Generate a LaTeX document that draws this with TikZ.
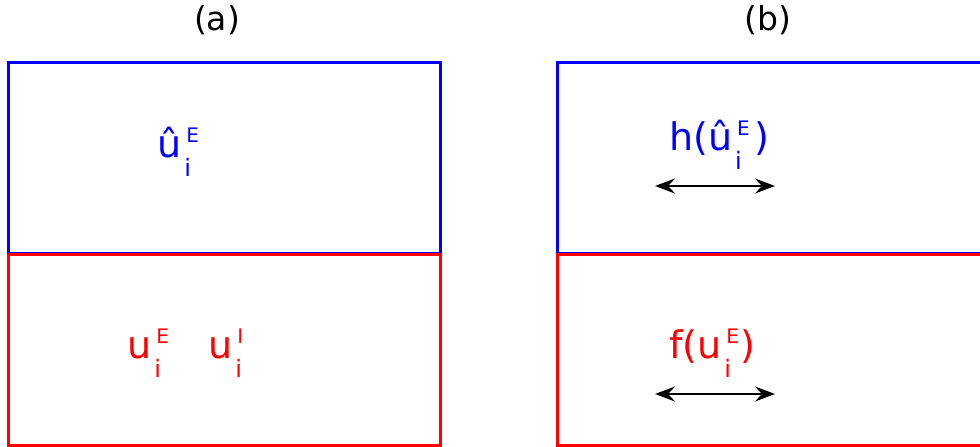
\documentclass[tikz,border=0pt]{standalone}
\usepackage{fontspec}
\setmainfont{DejaVu Sans}
\usetikzlibrary{arrows.meta}
\def\SSsup{20}\def\SSsub{24}\def\SSraise{15pt}\def\SSlower{19pt}\def\SSgap{5pt}\def\SSsubshift{-2pt}
\newcommand\SupSub[3]{#1\hbox{\setbox0\hbox{\fontsize{\SSsup}{\SSsup}\selectfont #2}%
\setbox2\hbox{\fontsize{\SSsub}{\SSsub}\selectfont #3}%
\dimen0=\wd0 \ifdim\wd2>\dimen0 \dimen0=\wd2 \fi
\kern\SSgap\rlap{\raise\SSraise\box0}\rlap{\kern\SSsubshift\lower\SSlower\box2}\kern\dimen0}}
\begin{document}
\begin{tikzpicture}[x=1pt,y=-1pt,
  boxline/.style={line width=3pt},
  lbl/.style={anchor=base west,inner sep=0pt,font=\fontsize{38}{44}\selectfont},
  ttl/.style={anchor=center,inner sep=0pt,font=\fontsize{33}{40}\selectfont},
  dbl/.style={line width=2.8pt,{Stealth[length=20pt,width=15pt,inset=7pt]}-{Stealth[length=20pt,width=15pt,inset=7pt]}}]
\useasboundingbox (0,0) rectangle (980,447);
\clip (0,0) rectangle (980,447);
% panel (a)
\draw[boxline,blue] (8,62) rectangle (440,253);
\draw[boxline,red] (8,254.5) rectangle (440,445);
% panel (b)
\draw[boxline,blue] (990,62) -- (557,62) -- (557,253) -- (990,253);
\draw[boxline,red] (990,254.5) -- (557,254.5) -- (557,445) -- (990,445);
% titles
\node[ttl] (ta) at (217,20) {(a)};
\node[ttl] (tb) at (768,20) {(b)};
% labels (a)
\node[lbl,blue] (uh) at (157,157) {\SupSub{û}{E}{i}};
\node[lbl,red] (uE) at (127,358) {\SupSub{u}{E}{i}};
\node[lbl,red] (uI) at (208,358) {\SupSub{u}{I}{i}};
% labels (b)
\node[lbl,blue] (h) at (669,150) {h(\SupSub{û}{E}{i}\kern5pt)};
\node[lbl,red] (f) at (669,358) {f(\SupSub{u}{E}{i}\kern1pt)};
% arrows
\coordinate (a1) at (655,186);
\coordinate (a2) at (775,186);
\coordinate (b1) at (655,394);
\coordinate (b2) at (775,394);
\draw[dbl] (a1) -- (a2);
\draw[dbl] (b1) -- (b2);
\end{tikzpicture}
\end{document}
